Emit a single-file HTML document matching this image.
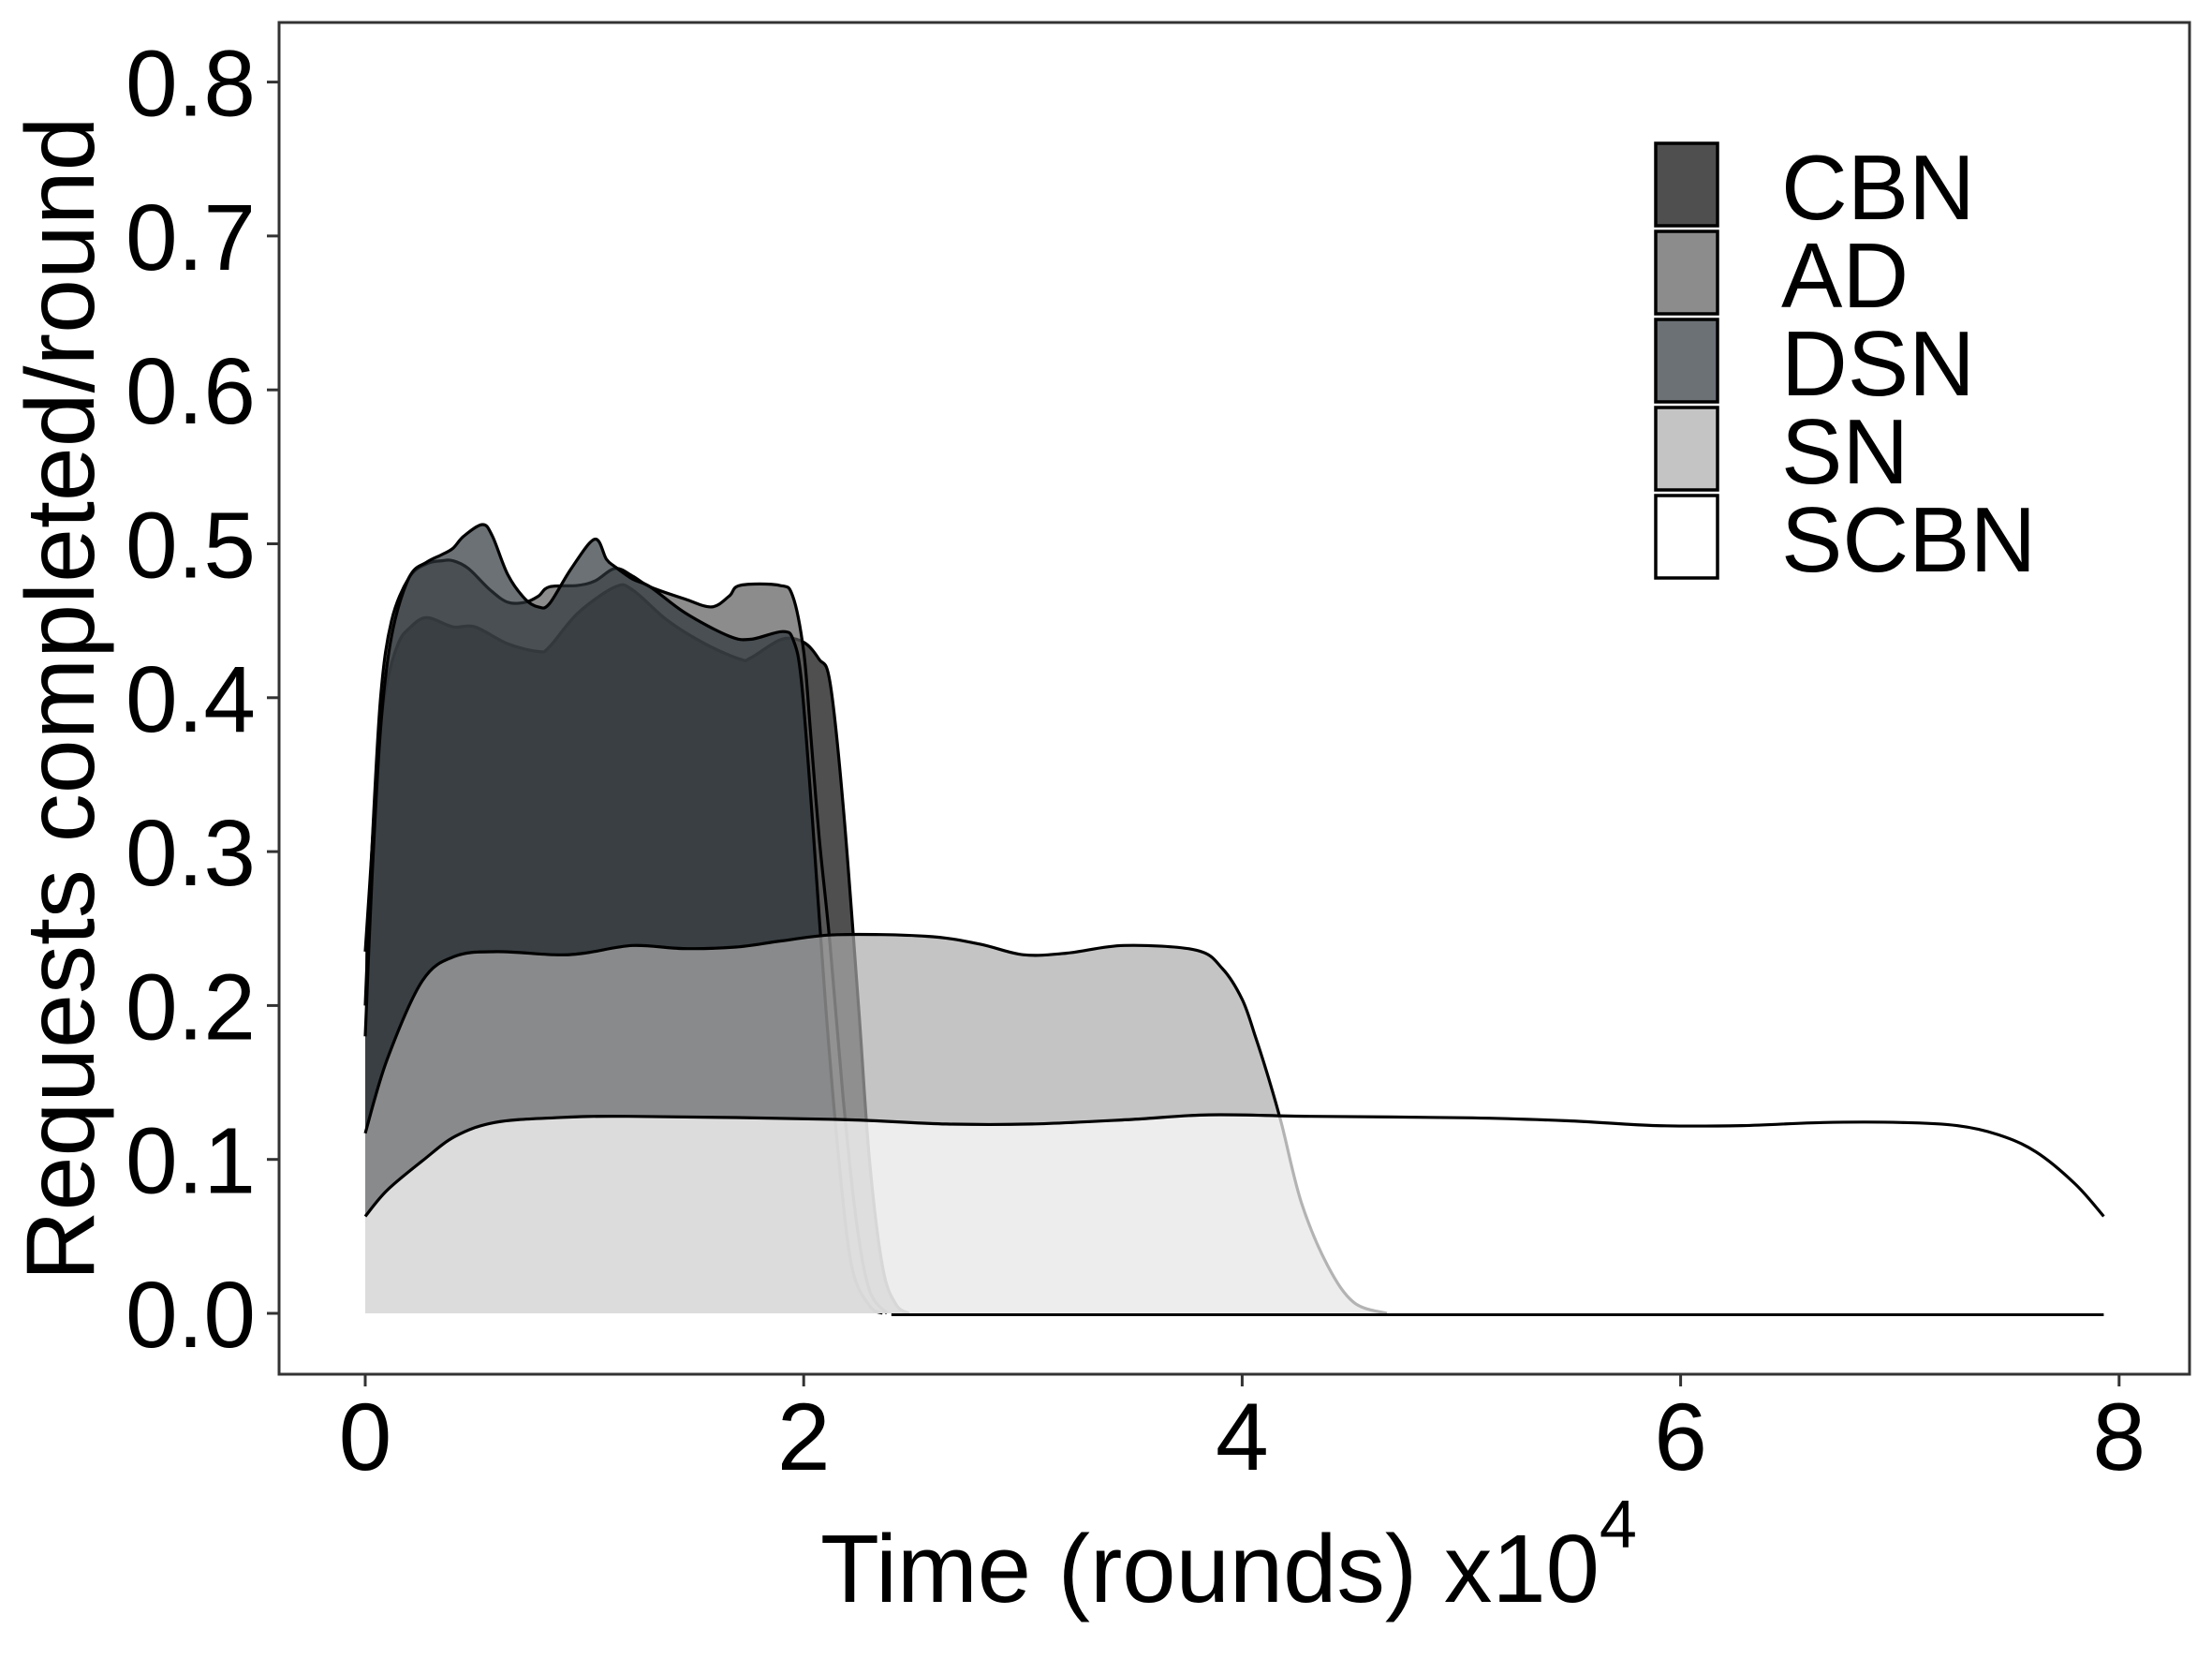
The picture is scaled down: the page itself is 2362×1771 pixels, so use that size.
<!DOCTYPE html>
<html><head><meta charset="utf-8"><style>
html,body{margin:0;padding:0;background:#fff;}
svg{display:block;}
text{font-family:"Liberation Sans",Arial,sans-serif;fill:#000;}
</style></head><body>
<svg id="chart" width="2362" height="1771" viewBox="0 0 2362 1771" xmlns="http://www.w3.org/2000/svg">
<rect x="0" y="0" width="2362" height="1771" fill="#fff"/>
<g id="series"></g>
<g id="axes"></g>
<rect x="298" y="24" width="2040" height="1443" fill="none" stroke="#333" stroke-width="3"/>
<text x="1312" y="1710" font-size="103" text-anchor="middle">Time (rounds) x10<tspan dy="-58" font-size="72">4</tspan></text>
<text transform="translate(100,746) rotate(-90)" x="0" y="0" font-size="104" text-anchor="middle">Requests completed/round</text>
<g id="legend"></g>
</svg>
<script>
const seriesNames = ["CBN","AD","DSN","SN","SCBN"];
const seriesFills = ["#040404","#5b5b5b","#2c343a","#ababab","#ffffff"];
const xTicks = [0,2,4,6,8];
const yTicks = [0.0,0.1,0.2,0.3,0.4,0.5,0.6,0.7,0.8];
const cbnX = [0,0.03,0.06,0.1,0.15,0.2,0.28,0.4,0.5,0.65,0.79,0.84,0.97,1.14,1.22,1.38,1.55,1.71,1.76,1.9,2.0,2.07,2.12,2.18,2.25,2.3,2.36,2.42,2.48];
const cbnY = [0.235,0.30,0.37,0.41,0.435,0.445,0.452,0.446,0.446,0.435,0.43,0.433,0.455,0.472,0.47,0.45,0.435,0.425,0.426,0.438,0.436,0.425,0.41,0.33,0.2,0.1,0.03,0.006,0];
const adX = [0,0.03,0.07,0.12,0.2,0.28,0.35,0.4,0.47,0.57,0.65,0.73,0.79,0.84,0.97,1.05,1.14,1.22,1.3,1.46,1.58,1.66,1.71,1.89,1.95,2.0,2.03,2.07,2.12,2.18,2.24,2.3,2.38];
const adY = [0.2,0.3,0.4,0.45,0.478,0.487,0.489,0.489,0.484,0.47,0.462,0.462,0.466,0.472,0.473,0.476,0.484,0.479,0.472,0.464,0.459,0.466,0.473,0.473,0.466,0.43,0.38,0.31,0.24,0.14,0.06,0.015,0];
const dsnX = [0,0.03,0.07,0.12,0.2,0.28,0.35,0.4,0.45,0.535,0.58,0.65,0.73,0.79,0.84,0.94,1.047,1.1,1.14,1.22,1.3,1.46,1.66,1.76,1.905,1.954,1.99,2.04,2.1,2.16,2.22,2.3,2.36];
const dsnY = [0.18,0.28,0.38,0.44,0.478,0.488,0.493,0.497,0.505,0.5125,0.505,0.48,0.464,0.459,0.461,0.484,0.503,0.49,0.485,0.477,0.472,0.455,0.44,0.438,0.443,0.437,0.41,0.32,0.2,0.1,0.03,0.005,0];
const snX = [0,0.1,0.26,0.41,0.6,0.86,1.0,1.22,1.45,1.69,1.9,2.15,2.56,2.8,3.0,3.2,3.46,3.79,3.91,4.0,4.06,4.12,4.18,4.27,4.39,4.51,4.66];
const snY = [0.117,0.165,0.216,0.232,0.235,0.233,0.234,0.239,0.237,0.238,0.242,0.246,0.245,0.24,0.233,0.234,0.239,0.236,0.224,0.204,0.18,0.153,0.123,0.072,0.031,0.007,0];
const scbnX = [0,0.1,0.26,0.41,0.59,0.86,1.2,2.15,2.65,3.04,3.5,3.85,4.31,5.05,5.5,5.89,6.28,6.65,7.01,7.26,7.45,7.62,7.8,7.93];
const scbnY = [0.063,0.08,0.099,0.115,0.124,0.127,0.128,0.126,0.123,0.123,0.126,0.129,0.128,0.127,0.125,0.122,0.122,0.124,0.124,0.122,0.116,0.105,0.084,0.063];
const baselineRange = [2.4,7.93];

const X0 = 390, XU = 234.1, Y0 = 1402, YU = 1643;
function xs(v){ return X0 + v*XU; }
function ys(v){ return Y0 - v*YU; }
const NS = "http://www.w3.org/2000/svg";
const gS = document.getElementById('series');
const allX = [cbnX, adX, dsnX, snX, scbnX];
const allY = [cbnY, adY, dsnY, snY, scbnY];
function smoothPath(px, py){
  let d = "M" + px[0].toFixed(1) + "," + py[0].toFixed(1);
  for (let i=0;i<px.length-1;i++){
    const x0=px[Math.max(i-1,0)], y0=py[Math.max(i-1,0)];
    const x1=px[i], y1=py[i], x2=px[i+1], y2=py[i+1];
    const x3=px[Math.min(i+2,px.length-1)], y3=py[Math.min(i+2,px.length-1)];
    const c1x=x1+(x2-x0)/6, c1y=y1+(y2-y0)/6, c2x=x2-(x3-x1)/6, c2y=y2-(y3-y1)/6;
    d += " C"+c1x.toFixed(1)+","+c1y.toFixed(1)+" "+c2x.toFixed(1)+","+c2y.toFixed(1)+" "+x2.toFixed(1)+","+y2.toFixed(1);
  }
  return d;
}
for (let s=0;s<seriesNames.length;s++){
  const px = allX[s].map(xs), py = allY[s].map(ys);
  const top = smoothPath(px, py);
  const fill = document.createElementNS(NS,'path');
  fill.setAttribute('d', top + " L" + px[px.length-1].toFixed(1) + "," + ys(0) + " L" + px[0].toFixed(1) + "," + ys(0) + " Z");
  fill.setAttribute('fill', seriesFills[s]);
  fill.setAttribute('fill-opacity', '0.7');
  fill.setAttribute('stroke','none');
  
  
  gS.appendChild(fill);
  const line = document.createElementNS(NS,'path');
  line.setAttribute('d', top);
  line.setAttribute('fill','none');
  line.setAttribute('stroke','#000');
  line.setAttribute('stroke-width','3.2');
  
  
  gS.appendChild(line);
}
const base = document.createElementNS(NS,'line');
base.setAttribute('x1', xs(baselineRange[0])); base.setAttribute('x2', xs(baselineRange[1]));
base.setAttribute('y1', ys(0)+1.5); base.setAttribute('y2', ys(0)+1.5);
base.setAttribute('stroke','#000'); base.setAttribute('stroke-width','3');


gS.appendChild(base);

const gA = document.getElementById('axes');
xTicks.forEach(t=>{
  const tk = document.createElementNS(NS,'line');
  tk.setAttribute('x1', xs(t)); tk.setAttribute('x2', xs(t));
  tk.setAttribute('y1', 1467); tk.setAttribute('y2', 1480);
  tk.setAttribute('stroke','#333'); tk.setAttribute('stroke-width','3');
  
  
  gA.appendChild(tk);
  const lb = document.createElementNS(NS,'text');
  lb.setAttribute('x', xs(t)); lb.setAttribute('y', 1569);
  lb.setAttribute('font-size','102'); lb.setAttribute('text-anchor','middle');
  lb.textContent = String(t);
  
  
  gA.appendChild(lb);
});
yTicks.forEach(t=>{
  const tk = document.createElementNS(NS,'line');
  tk.setAttribute('x1', 285); tk.setAttribute('x2', 298);
  tk.setAttribute('y1', ys(t)); tk.setAttribute('y2', ys(t));
  tk.setAttribute('stroke','#333'); tk.setAttribute('stroke-width','3');
  
  
  gA.appendChild(tk);
  const lb = document.createElementNS(NS,'text');
  lb.setAttribute('x', 273); lb.setAttribute('y', ys(t)+36);
  lb.setAttribute('font-size','100'); lb.setAttribute('text-anchor','end');
  lb.textContent = t.toFixed(1);
  
  
  gA.appendChild(lb);
});

const gL = document.getElementById('legend');
seriesNames.forEach((n,i)=>{
  const top = 153 + i*94;
  const r = document.createElementNS(NS,'rect');
  r.setAttribute('x', 1768); r.setAttribute('y', top);
  r.setAttribute('width', 66); r.setAttribute('height', 88);
  r.setAttribute('fill', '#fff');
  gL.appendChild(r);
  const k = document.createElementNS(NS,'rect');
  k.setAttribute('x', 1768); k.setAttribute('y', top);
  k.setAttribute('width', 66); k.setAttribute('height', 88);
  k.setAttribute('fill', seriesFills[i]); k.setAttribute('fill-opacity','0.7');
  k.setAttribute('stroke','#000'); k.setAttribute('stroke-width','3.5');
  
  
  gL.appendChild(k);
  const t = document.createElementNS(NS,'text');
  t.setAttribute('x', 1902); t.setAttribute('y', top + 81);
  t.setAttribute('font-size','98');
  t.textContent = n;
  
  
  gL.appendChild(t);
});
</script>
</body></html>
